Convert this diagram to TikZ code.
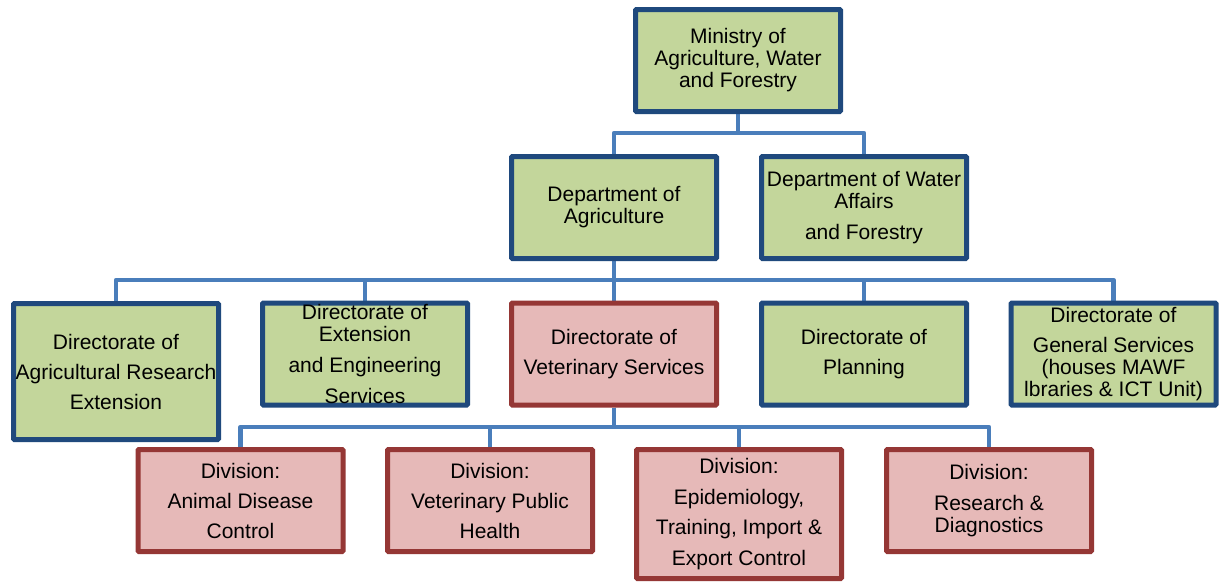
\documentclass[tikz,border=0pt]{standalone}
\usepackage{fontspec}
\setmainfont{Liberation Sans}
\usetikzlibrary{backgrounds}
\definecolor{gfill}{HTML}{C3D69B}
\definecolor{bdraw}{HTML}{1F497D}
\definecolor{rfill}{HTML}{E6B9B8}
\definecolor{rdraw}{HTML}{953735}
\definecolor{conncol}{HTML}{4A7EBB}
\tikzset{
  orgbox/.style={draw, line width=5pt, rounded corners=1pt, minimum width=205pt, minimum height=102pt,
    inner sep=0pt, align=center, font=\fontsize{21}{22}\selectfont},
  greenbox/.style={orgbox, fill=gfill, draw=bdraw},
  redbox/.style={orgbox, fill=rfill, draw=rdraw},
  conn/.style={draw=conncol, line width=4.5pt, line join=round}
}
\begin{document}
\begin{tikzpicture}[x=1pt, y=-1pt]
\useasboundingbox (0,0) rectangle (1227,582);
% level 1
\node[greenbox] (min) at (738,60.5) {Ministry of\\Agriculture, Water\\and Forestry};
% level 2
\node[greenbox] (da) at (614,207.5) {Department of\\Agriculture};
\node[greenbox] (dw) at (864,207.5) {Department of Water\\Affairs\\[9pt]and Forestry};
% level 3
\node[greenbox, minimum height=136pt] (ar) at (116,371.5) {Directorate of\\[8pt]Agricultural Research\\[8pt]Extension};
\node[greenbox] (ex) at (365,354) {Directorate of\\Extension\\[9pt]and Engineering\\[9pt]Services};
\node[redbox] (vs) at (614,354) {Directorate of\\[8.5pt]Veterinary Services};
\node[greenbox] (pl) at (864,354) {Directorate of\\[8.5pt]Planning};
\node[greenbox] (gs) at (1113.5,354) {Directorate of\\[8pt]General Services\\(houses MAWF\\lbraries \& ICT Unit)};
% level 4
\node[redbox] (ad) at (240.5,500.5) {Division:\\[8pt]Animal Disease\\[8pt]Control};
\node[redbox] (ph) at (490,500.5) {Division:\\[8pt]Veterinary Public\\[8pt]Health};
\node[redbox, minimum height=129pt] (ep) at (739,514) {Division:\\[9pt]Epidemiology,\\[8pt]Training, Import \&\\[9pt]Export Control};
\node[redbox] (rd) at (989,500.5) {Division:\\[9pt]Research \&\\Diagnostics};
% bus levels
\coordinate (h1) at (0,133);
\coordinate (h2) at (0,280);
\coordinate (h3) at (0,427);
\begin{pgfonlayer}{background}
\fill[white] (0,0) rectangle (1227,582);
\foreach \c in {da,dw} \draw[conn] (min.south) -- (min.south |- h1) -| (\c.north);
\foreach \c in {ar,ex,vs,pl,gs} \draw[conn] (da.south) -- (da.south |- h2) -| (\c.north);
\foreach \c in {ad,ph,ep,rd} \draw[conn] (vs.south) -- (vs.south |- h3) -| (\c.north);
\end{pgfonlayer}
\end{tikzpicture}
\end{document}
